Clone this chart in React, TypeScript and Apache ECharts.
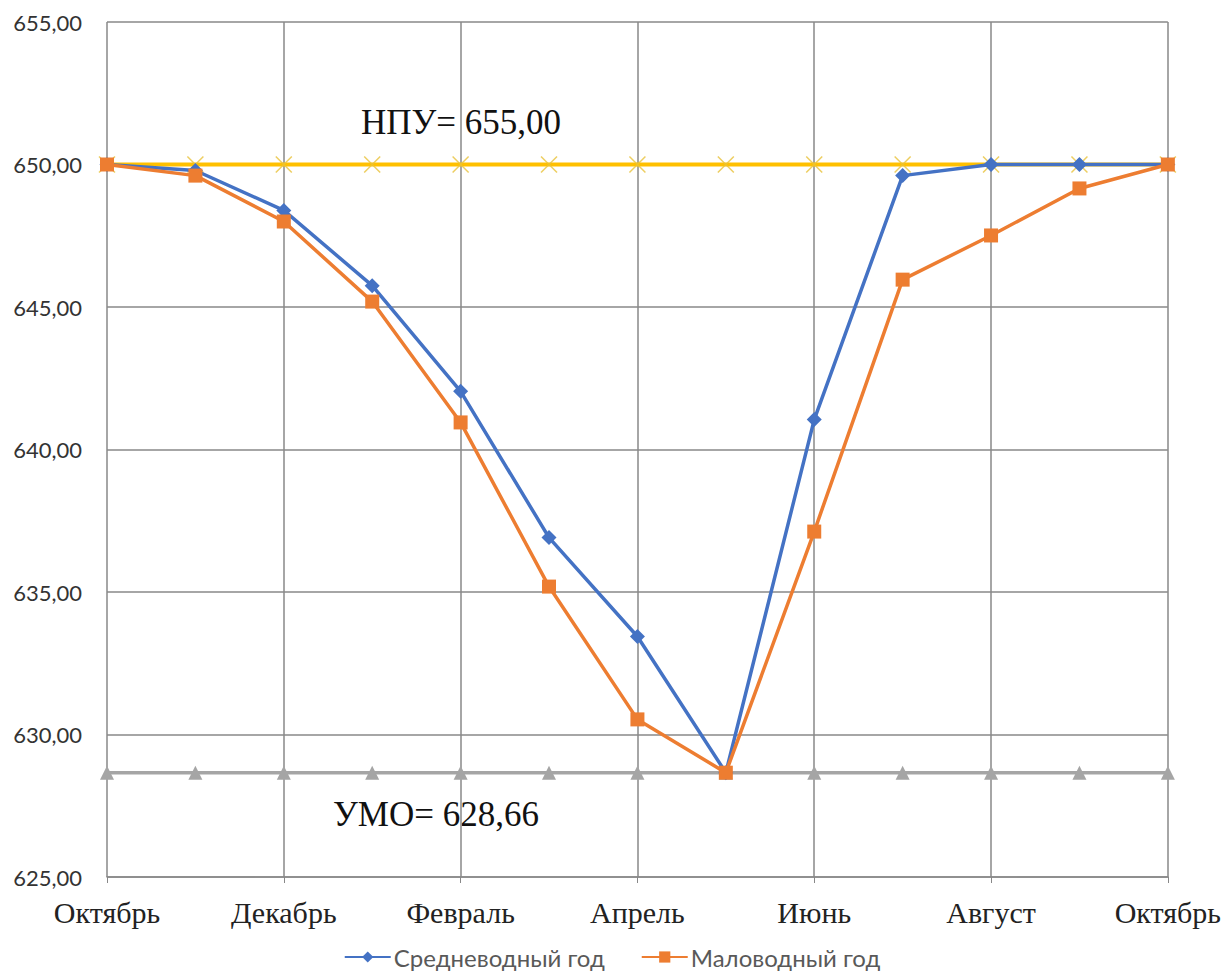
import React, { useEffect, useRef } from "react";
import * as echarts from "echarts";

const months = [
  "Октябрь", "Ноябрь", "Декабрь", "Январь", "Февраль", "Март", "Апрель",
  "Май", "Июнь", "Июль", "Август", "Сентябрь", "Октябрь",
];
const avgYear = [650.0, 649.79, 648.39, 645.75, 642.04, 636.91, 633.44, 628.66, 641.05, 649.61, 650.0, 650.0, 650.0];
const dryYear = [650.0, 649.61, 648.0, 645.19, 640.95, 635.19, 630.53, 628.66, 637.12, 645.96, 647.51, 649.16, 650.0];
const npuLevel = 650.0;
const umoLevel = 628.66;
const npuLine = months.map(() => npuLevel);
const umoLine = months.map(() => umoLevel);

const SERIF = "'Liberation Serif', 'Times New Roman', serif";
const SANS = "Lato, 'Open Sans', 'Noto Sans', sans-serif";

export default function App() {
  const ref = useRef<HTMLDivElement>(null);
  useEffect(() => {
    if (!ref.current) return;
    const chart = echarts.init(ref.current, null, { renderer: "svg" });
    chart.setOption({
      animation: false,
      backgroundColor: "#ffffff",
      grid: { left: 107, right: 54, top: 22, bottom: 97 },
      legend: {
        bottom: 0,
        left: "center",
        data: ["Средневодный год", "Маловодный год"],
        itemWidth: 46,
        itemHeight: 14,
        itemGap: 36,
        textStyle: { fontFamily: SANS, fontSize: 24, color: "#595959", padding: [0, 0, 0, -2] },
      },
      xAxis: {
        type: "category",
        data: months,
        boundaryGap: false,
        axisLine: { lineStyle: { color: "#888888", width: 1.5 } },
        axisTick: { show: true, interval: 1, length: 6, lineStyle: { color: "#888888" } },
        axisLabel: {
          interval: 1,
          margin: 20,
          fontFamily: SERIF,
          fontSize: 30,
          color: "#222222",
        },
        splitLine: { show: true, interval: 1, lineStyle: { color: "#888888", width: 1.5 } },
      },
      yAxis: {
        type: "value",
        min: 625,
        max: 655,
        interval: 5,
        axisLine: { show: false },
        axisTick: { show: false },
        axisLabel: {
          margin: 25,
          fontFamily: SANS,
          fontSize: 22,
          color: "#333333",
          formatter: (v: number) => v.toFixed(2).replace(".", ","),
        },
        splitLine: { lineStyle: { color: "#888888", width: 1.5 } },
      },
      series: [
        {
          name: "НПУ",
          type: "line",
          data: npuLine,
          z: 2,
          symbol: "path://M0,0L10,10M10,0L0,10",
          symbolSize: 16,
          showAllSymbol: true,
          lineStyle: { color: "#FFC000", width: 4 },
          itemStyle: { color: "#FFC000", borderColor: "#E8C23A", borderWidth: 1.5, opacity: 0.8 },
        },
        {
          name: "УМО",
          type: "line",
          data: umoLine,
          z: 2,
          symbol: "triangle",
          symbolSize: 14,
          showAllSymbol: true,
          lineStyle: { color: "#A5A5A5", width: 3.5 },
          itemStyle: { color: "#A5A5A5" },
        },
        {
          name: "Средневодный год",
          type: "line",
          data: avgYear,
          z: 3,
          symbol: "diamond",
          symbolSize: 15,
          showAllSymbol: true,
          lineStyle: { color: "#4472C4", width: 3.5 },
          itemStyle: { color: "#4472C4" },
        },
        {
          name: "Маловодный год",
          type: "line",
          data: dryYear,
          z: 4,
          symbol: "rect",
          symbolSize: 14,
          showAllSymbol: true,
          lineStyle: { color: "#ED7D31", width: 3.5 },
          itemStyle: { color: "#ED7D31" },
        },
      ],
      graphic: [
        {
          type: "text",
          left: 361,
          top: 105,
          style: { text: "НПУ= 655,00", font: `35px ${SERIF}`, fill: "#111111" },
        },
        {
          type: "text",
          left: 333,
          top: 797,
          style: { text: "УМО= 628,66", font: `35px ${SERIF}`, fill: "#111111" },
        },
      ],
    });
    return () => chart.dispose();
  }, []);
  return (
    <div
      ref={ref}
      style={{ position: "absolute", left: 0, top: 0, width: 1224, height: 974 }}
    />
  );
}
